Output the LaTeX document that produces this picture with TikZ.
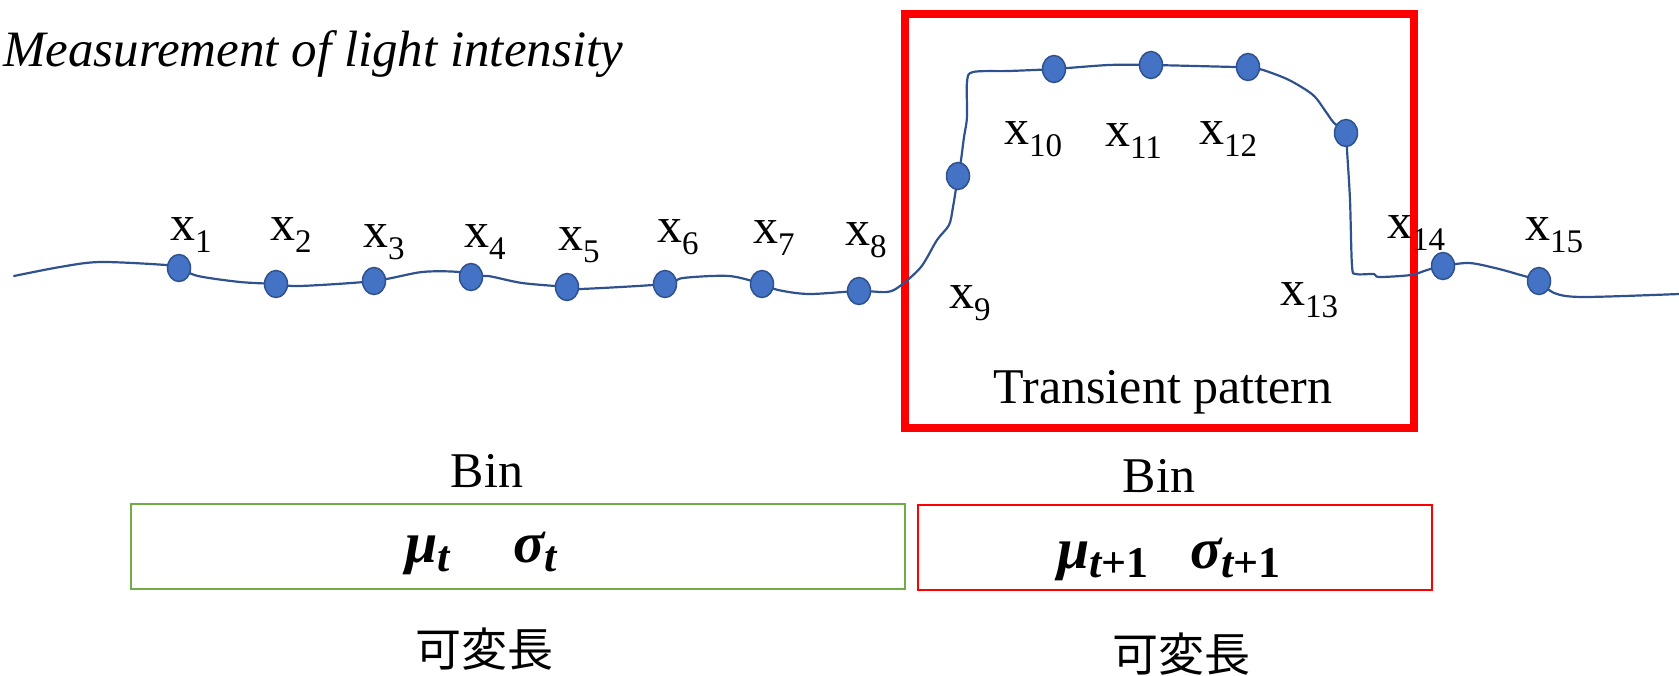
\documentclass[tikz,border=0pt]{standalone}
\usepackage{fontspec}
\setmainfont{Liberation Serif}
\newfontfamily\jpfont{Noto Sans CJK JP}
\usetikzlibrary{shapes.geometric}
\definecolor{linecol}{HTML}{2F528F}
\definecolor{dotfill}{HTML}{4472C4}
\definecolor{bingreen}{HTML}{70AD47}
\newcommand\xlab[1]{x\raisebox{-12bp}{\fontsize{33bp}{33bp}\selectfont #1}}
\newcommand\bsym[2]{{\bfseries\itshape #1}\raisebox{-9bp}{\fontsize{44bp}{44bp}\selectfont\bfseries #2}}
\begin{document}
\begin{tikzpicture}[x=1bp,y=-1bp,
  dotnode/.style={ellipse, draw=linecol, fill=dotfill, line width=1.5bp, minimum width=23bp, minimum height=27bp, inner sep=0pt},
  lbl/.style={anchor=base west, inner sep=0pt, font=\fontsize{50bp}{60bp}\selectfont},
  txt/.style={anchor=base, inner sep=0pt, font=\fontsize{50bp}{60bp}\selectfont},
  mathlbl/.style={anchor=base west, inner sep=0pt, font=\fontsize{58bp}{60bp}\selectfont},
  jplbl/.style={anchor=center, inner sep=0pt, font=\fontsize{46bp}{50bp}\selectfont\jpfont},
  trace/.style={draw=linecol, line width=2.2bp, line join=round, line cap=round}]
\useasboundingbox (0,0) rectangle (1679,676);

% sample points
\coordinate (c1) at (179,268);
\coordinate (c2) at (276,284);
\coordinate (c3) at (374,281);
\coordinate (c4) at (471,277);
\coordinate (c5) at (567,287);
\coordinate (c6) at (665,284);
\coordinate (c7) at (762,284);
\coordinate (c8) at (859,291);
\coordinate (c9) at (958,176);
\coordinate (c10) at (1054,69);
\coordinate (c11) at (1151,65);
\coordinate (c12) at (1248,67);
\coordinate (c13) at (1346,133);
\coordinate (c14) at (1443,266);
\coordinate (c15) at (1539,281);
\coordinate (tstart) at (14,276);
\coordinate (tend) at (1679,294);

% transient box (behind trace)
\draw[red, line width=8.5bp] (905,14) rectangle (1414,428);

% light-intensity trace
\draw[trace] plot[smooth, tension=0.5] coordinates {
  (tstart) (60,267) (100,262) (166,265) (c1) (198,276) (240,282) (c2) (300,286)
  (c3) (422,272) (459,272) (c4) (488,276) (522,283) (c5) (580,289) (c6)
  (683,278) (729,276) (c7) (778,290) (809,294) (c8) (887,292) (900,286)
  (921,267) (937,240) (949,225) (953,207) (c9) (961,160) (964,137) (967,117)
  (967,82) (973,72) (1009,71) (c10) (1109,65) (c11) (1236,67) (c12) (1263,70)
  (1289,80) (1313,95) (1326,112) (1334,123) (c13) (1347,150) (1350,200)
  (1352,266) (1356,274) (1374,274) (1379,277) (1411,275) (1427,270) (c14)
  (1469,263) (1495,268) (1517,274) (c15) (1554,293) (1583,297) (tend)};

% dots
\foreach \i in {1,...,15} { \node[dotnode] (d\i) at (c\i) {}; }

% labels
\node[lbl] (l1) at (170,240) {\xlab{1}};
\node[lbl] (l2) at (270,240) {\xlab{2}};
\node[lbl] (l3) at (363,247) {\xlab{3}};
\node[lbl] (l4) at (464,247) {\xlab{4}};
\node[lbl] (l5) at (558,250) {\xlab{5}};
\node[lbl] (l6) at (657,242) {\xlab{6}};
\node[lbl] (l7) at (753,243) {\xlab{7}};
\node[lbl] (l8) at (845,245) {\xlab{8}};
\node[lbl] (l9) at (949,308) {\xlab{9}};
\node[lbl] (l10) at (1004,145) {\xlab{10}};
\node[lbl] (l11) at (1105,147) {\xlab{11}};
\node[lbl] (l12) at (1199,145) {\xlab{12}};
\node[lbl] (l13) at (1280,305) {\xlab{13}};
\node[lbl] (l14) at (1387,238) {\xlab{14}};
\node[lbl] (l15) at (1525,240) {\xlab{15}};

% title
\node[anchor=base west, inner sep=0pt, font=\fontsize{51bp}{60bp}\selectfont\itshape] (title) at (3,67) {Measurement of light intensity};

\node[txt] (trans) at (1163,403) {Transient pattern};

% bins
\node[txt] (bin1) at (487,487) {Bin};
\node[txt] (bin2) at (1159,492) {Bin};
\draw[bingreen, line width=2.5bp] (131,504) rectangle (905,589);
\draw[red, line width=2.5bp] (918,505) rectangle (1432,590);
\node[mathlbl] (mu1) at (405,562) {\bsym{μ}{\itshape t}};
\node[mathlbl] (sg1) at (513,562) {\bsym{σ}{\itshape t}};
\node[mathlbl] (mu2) at (1057,568) {\bsym{μ}{{\itshape t}+1}};
\node[mathlbl] (sg2) at (1190,568) {\bsym{σ}{{\itshape t}+1}};

\node[jplbl] (jp1) at (484,649) {可変長};
\node[jplbl] (jp2) at (1181,654) {可変長};
\end{tikzpicture}
\end{document}
